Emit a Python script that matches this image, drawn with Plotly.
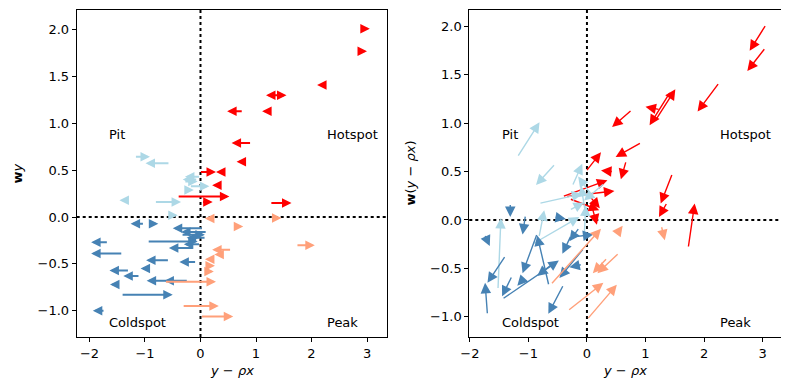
import plotly.graph_objects as go

# ---------------- data ----------------
COLORS = {"HH": "#FF0000", "LH": "#ADD8E6", "LL": "#4682B4", "HL": "#FFA07A"}

# Left panel: horizontal arrows (tail x -> tip x at fixed Wy)
left_x0 = [2.95, 2.92, 2.25, 1.45, 1.43, 0.77, 1.25, 0.92, 0.77, -0.02, 0.40, 0.34, -0.42, 0.02, 1.25,
           -1.19, -0.55, 0.00, -0.30, -0.20, -0.05, -0.23, -1.28, -0.83, -0.56,
           -1.01, -0.89, 0.05, 0.12, -0.35, 0.10, -0.96, -0.11, 0.00, -1.66, -1.40, -0.56, -0.07,
           -1.28, -0.90, -1.09, -0.45, -0.22, -1.51, -1.43, -1.72,
           -0.65, -0.33, 0.00, 0.56, 0.35, 0.25, 0.14, 0.14, 0.20, 1.28, 0.59, 1.72]
left_x1 = [3.05, 3.00, 2.10, 1.18, 1.55, 0.48, 1.11, 0.56, 0.65, 0.28, 0.28, 0.21, 0.52, 0.22, 1.64,
           -0.91, -0.99, -0.28, -0.05, 0.16, -0.32, -0.12, -1.46, -0.35, -0.41,
           -1.26, -0.76, -0.50, -0.35, 0.08, -0.25, -0.05, -0.57, -0.30, -1.97, -1.97, -0.98, -0.38,
           -1.64, -1.08, -1.39, -0.97, -0.65, -1.63, -0.50, -1.94,
           0.28, 0.33, 0.59, 0.21, 0.25, 0.08, 0.26, 0.24, 0.08, 1.46, 0.77, 2.06]
left_y = [2.01, 1.77, 1.41, 1.30, 1.30, 1.13, 1.13, 0.79, 0.59, 0.48, 0.48, 0.34, 0.22, 0.16, 0.15,
          0.645, 0.574, 0.43, 0.38, 0.33, 0.40, 0.29, 0.18, 0.16, 0.02,
          -0.07, -0.07, -0.12, -0.16, -0.19, -0.22, -0.26, -0.33, -0.29, -0.27, -0.39, -0.46, -0.48,
          -0.57, -0.55, -0.63, -0.68, -0.68, -0.72, -0.83, -1.00,
          -0.69, -0.95, -1.06, -0.35, -0.40, -0.45, -0.52, -0.58, -0.015, -0.01, -0.10, -0.30]
left_q = ["HH"] * 15 + ["LH"] * 10 + ["LL"] * 21 + ["HL"] * 12

# Right panel: 2-D arrows (tail -> tip)
right_x0 = [3.06, 3.05, 2.26, 1.17, 1.43, 1.25, 0.77, 0.93, 0.67, 0.45, 1.46, 1.37, 1.73, -0.02, -0.42, -0.36, -0.30, 0.00, 0.08,
            -1.19, -0.54, -0.25, 0.05, -0.02, 0.30, -0.05, -0.82, -0.93, -1.52, -0.82, -0.30,
            -1.70, -1.39, -1.75, -1.31, -1.45, -0.65, -0.85, -1.28, -1.07, -0.56, -0.40, -0.05, -0.08, -0.27, -0.29, -0.56, -0.13, -1.05,
            1.27, 0.50, -0.62, 0.55, 0.35, -0.33, 0.00]
right_y0 = [2.02, 1.78, 1.42, 1.03, 1.33, 1.14, 1.14, 0.80, 0.61, 0.50, 0.48, 0.18, -0.29, 0.50, 0.24, 0.24, 0.22, 0.28, 0.15,
            0.65, 0.58, 0.35, 0.28, 0.05, 0.38, -0.20, 0.17, -0.25, -0.72, -0.18, 0.10,
            -0.98, -0.37, -0.15, 0.17, -0.82, -0.68, -0.14, -0.58, -0.60, -0.44, -0.67, -0.29, -0.46, -0.16, -0.18, 0.03, -0.08, 0.05,
            -0.06, -0.15, -0.67, -0.34, -0.39, -0.94, -1.03]
right_x1 = [2.78, 2.74, 1.89, 1.51, 1.07, 1.00, 0.43, 0.49, 0.58, 0.24, 1.26, 1.23, 1.84, 0.24, 0.35, 0.47, 0.21, 0.22, 0.17,
            -0.81, -0.87, -0.08, -0.15, -0.10, -0.05, -0.02, -0.08, -0.13, -1.47, -0.73, -0.05,
            -1.74, -1.70, -1.66, -1.31, -0.48, -0.85, -1.10, -1.45, -1.19, -0.85, -0.66, -0.47, -0.30, -0.42, 0.11, -0.36, -0.30, -1.10,
            1.33, 0.61, 0.24, 0.18, 0.10, 0.28, 0.51]
right_y1 = [1.75, 1.54, 1.12, 1.35, 0.98, 1.17, 0.96, 0.65, 0.42, 0.51, 0.17, 0.03, 0.17, 0.70, 0.41, 0.30, 0.10, 0.12, -0.05,
            1.01, 0.36, 0.58, 0.45, 0.35, 0.20, 0.15, 0.27, 0.03, 0.02, 0.10, 0.18,
            -0.65, -0.65, -0.27, 0.03, -0.42, -0.16, -0.55, -0.79, -0.68, -0.58, -0.97, -0.60, -0.49, -0.35, -0.15, 0.01, -0.22, -0.15,
            -0.21, -0.06, -0.09, -0.55, -0.55, -0.65, -0.67]
right_q = ["HH"] * 19 + ["LH"] * 12 + ["LL"] * 18 + ["HL"] * 7

X_TICKS = [-2, -1, 0, 1, 2, 3]
Y_TICKS = [-1.0, -0.5, 0.0, 0.5, 1.0, 1.5, 2.0]
QUAD_LABELS = ["Pit", "Hotspot", "Coldspot", "Peak"]

# ---------------- figure ----------------
FONT = "DejaVu Sans"
W, H = 781, 382   # the page body adds an 8px offset; figure fills the rest of the window
OFF = 8


def fx(px):
    return (px - OFF) / W


def fy(py):
    return 1 - (py - OFF) / H


fig = go.Figure()

# invisible traces so that both subplots are established
fig.add_trace(go.Scatter(x=left_x0, y=left_y, mode="markers", marker=dict(opacity=0),
                         hoverinfo="skip", showlegend=False, xaxis="x", yaxis="y"))
fig.add_trace(go.Scatter(x=right_x0, y=right_y0, mode="markers", marker=dict(opacity=0),
                         hoverinfo="skip", showlegend=False, xaxis="x2", yaxis="y2"))

annotations = []
for x0, x1, y, q in zip(left_x0, left_x1, left_y, left_q):
    annotations.append(dict(x=x1, y=y, ax=x0, ay=y, xref="x", yref="y", axref="x", ayref="y",
                            text="", showarrow=True, arrowhead=2, arrowsize=0.95, arrowwidth=2,
                            arrowcolor=COLORS[q], standoff=0))
for x0, y0, x1, y1, q in zip(right_x0, right_y0, right_x1, right_y1, right_q):
    annotations.append(dict(x=x1, y=y1, ax=x0, ay=y0, xref="x2", yref="y2", axref="x2", ayref="y2",
                            text="", showarrow=True, arrowhead=2, arrowsize=1.5, arrowwidth=1.4,
                            arrowcolor=COLORS[q], standoff=0))

# quadrant labels
for xr, yr in (("x domain", "y domain"), ("x2 domain", "y2 domain")):
    for lab, px, py in zip(QUAD_LABELS, [0.098, 0.80, 0.098, 0.80], [0.618, 0.618, 0.043, 0.043]):
        annotations.append(dict(x=px, y=py, xref=xr, yref=yr, text=lab, showarrow=False,
                                xanchor="left", yanchor="middle",
                                font=dict(family=FONT, size=13, color="black")))

# axis titles
xt = "<i>y</i> − <i>ρx</i>"
title_font = dict(family=FONT, size=13, color="black")
annotations += [
    dict(x=fx(231.8), y=fy(370), xref="paper", yref="paper", text=xt, showarrow=False,
         xanchor="center", yanchor="middle", font=title_font),
    dict(x=fx(625), y=fy(370), xref="paper", yref="paper", text=xt, showarrow=False,
         xanchor="center", yanchor="middle", font=title_font),
    dict(x=fx(17), y=fy(173.5), xref="paper", yref="paper", text="<b>w</b><i>y</i>", showarrow=False,
         textangle=-90, xanchor="center", yanchor="middle", font=title_font),
    dict(x=fx(410), y=fy(173.5), xref="paper", yref="paper", text="<b>w</b>(<i>y</i> − <i>ρx</i>)",
         showarrow=False, textangle=-90, xanchor="center", yanchor="middle", font=title_font),
]

shapes = []
for xa, ya in (("x", "y"), ("x2", "y2")):
    shapes.append(dict(type="line", xref=xa, yref=ya + " domain", x0=0, x1=0, y0=0, y1=1,
                       line=dict(color="black", width=2, dash="dot"), layer="above"))
    shapes.append(dict(type="line", xref=xa + " domain", yref=ya, x0=0, x1=1, y0=0, y1=0,
                       line=dict(color="black", width=2, dash="dot"), layer="above"))

axis_common = dict(showline=True, mirror=True, linecolor="black", linewidth=1,
                   ticks="outside", ticklen=4, tickwidth=1, tickcolor="black",
                   showgrid=False, zeroline=False, automargin=False,
                   tickfont=dict(family=FONT, size=13, color="black"))

ydom = [fy(337), fy(10)]
fig.update_layout(
    width=W, height=H,
    margin=dict(l=0, r=0, t=0, b=0),
    paper_bgcolor="white", plot_bgcolor="white",
    showlegend=False,
    xaxis=dict(domain=[fx(76.7), fx(387)], range=[-2.23, 3.36], tickvals=X_TICKS,
               anchor="y", **axis_common),
    yaxis=dict(domain=ydom, range=[-1.28, 2.21], tickvals=Y_TICKS, tickformat=".1f",
               anchor="x", **axis_common),
    xaxis2=dict(domain=[fx(469.3), fx(780.7)], range=[-2.01, 3.31], tickvals=X_TICKS,
                anchor="y2", **axis_common),
    yaxis2=dict(domain=ydom, range=[-1.21, 2.17], tickvals=Y_TICKS, tickformat=".1f",
                anchor="x2", **axis_common),
    annotations=annotations,
    shapes=shapes,
)

fig.write_html("out.html")
